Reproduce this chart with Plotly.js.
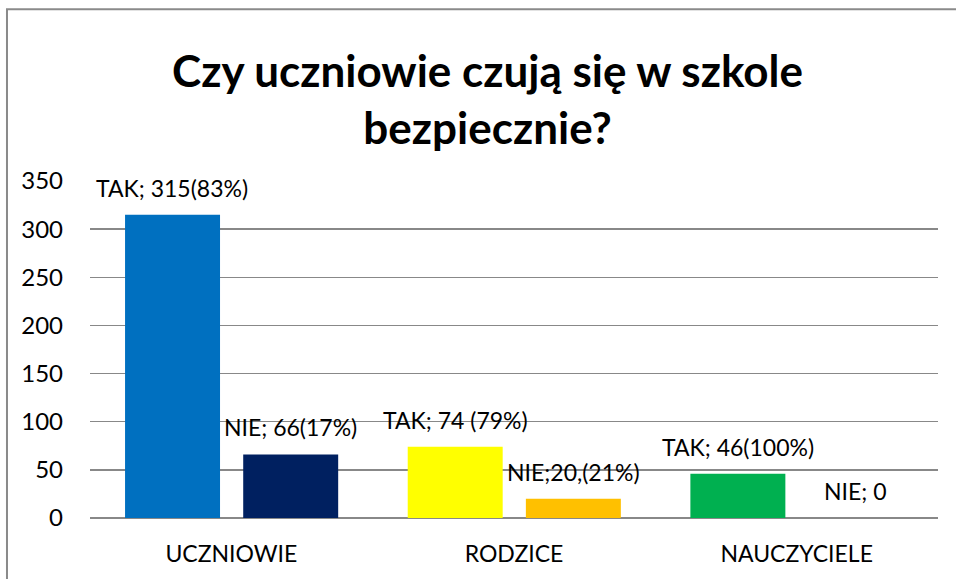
<!DOCTYPE html>
<html>
<head>
<meta charset="utf-8">
<script src="https://cdn.plot.ly/plotly-3.0.1.min.js"></script>
<style>html,body{margin:0;padding:0;background:#fff;}#chart{width:956px;height:579px;}</style>
</head>
<body>
<div id="chart"></div>
<script>
const categories = ["UCZNIOWIE", "RODZICE", "NAUCZYCIELE"];
const takValues = [315, 74, 46];
const nieValues = [66, 20, 0];
const takLabels = ["TAK; 315(83%)", "TAK; 74 (79%)", "TAK; 46(100%)"];
const nieLabels = ["NIE; 66(17%)", "NIE;20,(21%)", "NIE; 0"];
const takColors = ["#0070C0", "#FFFF00", "#00B050"];
const nieColors = ["#002060", "#FFC000", "#FFC000"];
const yTicks = [0, 50, 100, 150, 200, 250, 300, 350];
const titleText = "Czy uczniowie czują się w szkole<br>bezpiecznie?";

const FONT = "Lato, 'Open Sans', sans-serif";
const BW = 0.336;

const traces = [
  {type: "bar", name: "TAK", x: categories, y: takValues, width: BW, offset: -0.376,
   marker: {color: takColors}, hoverinfo: "none"},
  {type: "bar", name: "NIE", x: categories, y: nieValues, width: BW, offset: 0.042,
   marker: {color: nieColors}, hoverinfo: "none"}
];

const annotations = [];
categories.forEach((c, i) => {
  annotations.push({x: c, y: takValues[i], xref: "x", yref: "y", text: takLabels[i],
    showarrow: false, xshift: -59, yshift: 27, yanchor: "middle",
    font: {family: FONT, size: 23, color: "#000"}});
  annotations.push({x: c, y: nieValues[i], xref: "x", yref: "y", text: nieLabels[i],
    showarrow: false, xshift: 59, yshift: 27, yanchor: "middle",
    font: {family: FONT, size: 23, color: "#000"}});
});

const layout = {
  width: 956, height: 579,
  margin: {l: 90, r: 18, t: 181, b: 61, pad: 0},
  paper_bgcolor: "#fff", plot_bgcolor: "#fff",
  showlegend: false,
  title: {text: titleText, x: 0.51, xanchor: "center", y: 0.85, yanchor: "middle",
    font: {family: FONT, size: 44, color: "#000", weight: "bold"}},
  xaxis: {type: "category", showgrid: false, showline: false, ticks: "",
    ticklabelstandoff: 20,
    tickfont: {family: FONT, size: 23, color: "#000"}, fixedrange: true},
  yaxis: {range: [0, 350], tickvals: yTicks, showgrid: true, gridcolor: "#888888", gridwidth: 1.5,
    zeroline: true, zerolinecolor: "#888888", zerolinewidth: 1.5, showline: false, ticks: "",
    ticklabelstandoff: 26,
    tickfont: {family: FONT, size: 24, color: "#000"}, fixedrange: true},
  bargap: 0.2,
  annotations: annotations,
  shapes: [{type: "rect", xref: "paper", yref: "paper", x0: -0.0979, x1: 1.3, y0: -0.5, y1: 1.510,
    line: {color: "#8a8a8a", width: 2}, fillcolor: "rgba(0,0,0,0)", layer: "below"}]
};

Plotly.newPlot("chart", traces, layout, {displayModeBar: false, staticPlot: true});
</script>
</body>
</html>
